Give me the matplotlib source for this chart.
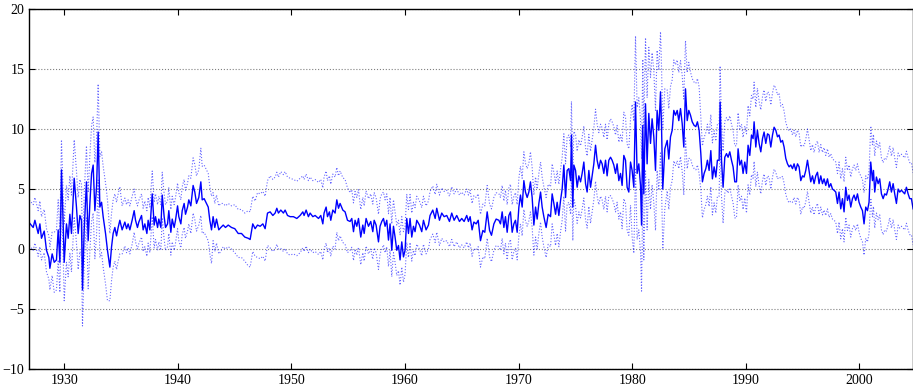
import numpy as np
import matplotlib
matplotlib.use("Agg")
import matplotlib.pyplot as plt

# dates (decimal years) and estimate
years = [
    1926.92, 1927.27, 1927.42, 1927.71, 1927.86, 1928.00, 1928.24, 1928.44, 1928.65, 1928.74,
    1928.94, 1929.12, 1929.32, 1929.47, 1929.62, 1929.76, 1929.91, 1930.00, 1930.20, 1930.35,
    1930.50, 1930.64, 1930.88, 1931.08, 1931.23, 1931.38, 1931.52, 1931.61, 1931.76, 1931.96,
    1932.11, 1932.26, 1932.41, 1932.55, 1932.70, 1932.85, 1932.99, 1933.14, 1933.29, 1933.43,
    1933.64, 1933.81, 1934.02, 1934.17, 1934.31, 1934.46, 1934.61, 1934.75, 1934.90, 1935.10,
    1935.34, 1935.49, 1935.63, 1935.78, 1935.98, 1936.16, 1936.28, 1936.45, 1936.57, 1936.81,
    1936.95, 1937.10, 1937.28, 1937.39, 1937.54, 1937.75, 1937.92, 1938.04, 1938.22, 1938.33,
    1938.51, 1938.63, 1938.80, 1938.92, 1939.10, 1939.21, 1939.39, 1939.51, 1939.68, 1939.80,
    1939.98, 1940.09, 1940.27, 1940.39, 1940.56, 1940.68, 1940.86, 1940.97, 1941.15, 1941.35,
    1941.50, 1941.65, 1941.85, 1942.03, 1942.15, 1942.32, 1942.53, 1942.68, 1942.82, 1942.97,
    1943.11, 1943.26, 1943.41, 1943.61, 1943.79, 1944.00, 1944.20, 1944.44, 1944.73, 1945.02,
    1945.32, 1945.61, 1945.90, 1946.20, 1946.37,
    1946.60, 1946.81, 1947.02, 1947.25, 1947.49, 1947.69, 1947.90, 1948.13, 1948.37, 1948.57,
    1948.72, 1948.86, 1949.07, 1949.30, 1949.45, 1949.66, 1949.89, 1950.18, 1950.48, 1950.77,
    1951.01, 1951.12, 1951.30, 1951.50, 1951.65, 1951.89, 1952.09, 1952.39, 1952.59, 1952.77,
    1952.88, 1953.06, 1953.18, 1953.35, 1953.47, 1953.65, 1953.85, 1954.00, 1954.15, 1954.29,
    1954.53, 1954.73, 1954.94, 1955.17, 1955.32, 1955.47, 1955.61, 1955.76, 1955.91, 1956.11,
    1956.29, 1956.41, 1956.58, 1956.79, 1956.99, 1957.17, 1957.29, 1957.46, 1957.67, 1957.81,
    1957.96, 1958.11, 1958.25, 1958.40, 1958.55, 1958.69, 1958.84, 1958.99, 1959.13, 1959.28,
    1959.43, 1959.57, 1959.72, 1959.87, 1960.01, 1960.16, 1960.31, 1960.45, 1960.60, 1960.75,
    1960.89, 1961.04, 1961.28, 1961.48, 1961.63, 1961.86, 1962.07, 1962.21, 1962.45, 1962.66,
    1962.80, 1963.04, 1963.24, 1963.45, 1963.68, 1963.92, 1964.12, 1964.33, 1964.56, 1964.80,
    1965.00, 1965.21, 1965.44, 1965.59, 1965.74, 1965.91,
    1966.07, 1966.27, 1966.45, 1966.65, 1966.86, 1967.03, 1967.24, 1967.45, 1967.62, 1967.83,
    1968.03, 1968.27, 1968.41, 1968.56, 1968.71, 1968.85, 1969.00, 1969.15, 1969.29, 1969.44,
    1969.59, 1969.73, 1969.88, 1970.03, 1970.17, 1970.32, 1970.47, 1970.61, 1970.76, 1970.91,
    1971.05, 1971.20, 1971.35, 1971.50, 1971.64, 1971.79, 1971.94, 1972.08, 1972.23, 1972.43,
    1972.61, 1972.82, 1972.96, 1973.11, 1973.26, 1973.40, 1973.55, 1973.70, 1973.84, 1973.99,
    1974.14, 1974.28, 1974.43, 1974.58, 1974.66, 1974.78, 1974.87, 1975.02, 1975.16, 1975.31,
    1975.46, 1975.60, 1975.75, 1975.90, 1976.04, 1976.19, 1976.34, 1976.48, 1976.63, 1976.78,
    1976.92, 1977.07, 1977.22, 1977.36, 1977.51, 1977.66, 1977.80, 1977.95, 1978.10, 1978.24,
    1978.39, 1978.54, 1978.68, 1978.83, 1978.98, 1979.12, 1979.27, 1979.42, 1979.56, 1979.71,
    1979.86, 1980.00, 1980.15, 1980.30, 1980.44, 1980.59, 1980.74, 1980.83, 1980.94, 1981.03,
    1981.18, 1981.32, 1981.47, 1981.62, 1981.76, 1981.91, 1982.06, 1982.20, 1982.35, 1982.50,
    1982.59, 1982.70, 1982.88, 1983.09, 1983.23, 1983.38, 1983.53, 1983.67, 1983.82, 1983.97,
    1984.11, 1984.26, 1984.41, 1984.55, 1984.70, 1984.85, 1984.99, 1985.14, 1985.29, 1985.46,
    1985.61, 1985.75, 1985.90, 1986.05, 1986.19, 1986.34, 1986.49, 1986.63, 1986.78, 1986.93,
    1987.07, 1987.22, 1987.37, 1987.51, 1987.66, 1987.75, 1987.87, 1988.01, 1988.16, 1988.31,
    1988.45, 1988.60, 1988.75, 1988.89, 1989.04, 1989.19, 1989.33, 1989.48, 1989.63, 1989.77,
    1989.92, 1990.07, 1990.21, 1990.36, 1990.51, 1990.65, 1990.74, 1990.89, 1991.03, 1991.18,
    1991.33, 1991.48, 1991.62, 1991.77, 1991.92, 1992.06, 1992.21, 1992.36, 1992.50, 1992.65,
    1992.80, 1992.94, 1993.09, 1993.24, 1993.38, 1993.53, 1993.68, 1993.82, 1993.97, 1994.12,
    1994.26, 1994.41, 1994.56, 1994.70, 1994.85, 1995.00, 1995.14, 1995.29, 1995.44, 1995.58,
    1995.73, 1995.88, 1996.02, 1996.17, 1996.32, 1996.46, 1996.61, 1996.76, 1996.90, 1997.05,
    1997.20, 1997.34, 1997.49, 1997.64, 1997.78, 1997.93, 1998.08, 1998.22, 1998.37, 1998.52,
    1998.66, 1998.81, 1998.96, 1999.10, 1999.25, 1999.40, 1999.54, 1999.69, 1999.84, 1999.98,
    2000.13, 2000.28, 2000.42, 2000.57, 2000.72, 2000.86, 2001.01, 2001.16, 2001.25, 2001.36,
    2001.51, 2001.66, 2001.80, 2001.95, 2002.10, 2002.24, 2002.39, 2002.54, 2002.68, 2002.83,
    2002.98, 2003.12, 2003.27, 2003.42, 2003.56, 2003.71, 2003.86, 2004.00, 2004.15, 2004.30,
    2004.44, 2004.59, 2004.74,
]

estimate = [
    2.2, 1.8, 2.4, 1.3, 2.1, 0.9, 1.5, -0.1, -0.7, -1.6,
    -0.4, -1.1, -0.9, 1.6, -1.1, 6.6, 2.1, -1.1, 2.1, 0.9,
    2.9, 1.3, 5.9, 3.5, 1.3, 2.8, 2.4, -3.4, 1.6, 5.6,
    0.7, 3.8, 6.3, 7.0, 3.2, 5.2, 9.75, 3.5, 3.9, 2.7,
    1.3, -0.1, -1.5, 0.2, 1.3, 1.8, 1.1, 1.8, 2.4, 1.6,
    2.25, 1.7, 2.1, 1.6, 2.4, 3.2, 2.4, 1.8, 2.25, 2.8,
    1.6, 2.1, 1.3, 2.4, 1.6, 4.6, 2.0, 2.7, 1.8, 2.5,
    1.8, 4.5, 2.7, 1.8, 2.1, 3.2, 1.4, 2.5, 1.8, 2.4,
    3.6, 2.7, 2.1, 3.2, 3.8, 2.9, 3.5, 4.1, 3.6, 5.3,
    4.75, 3.8, 4.3, 5.6, 4.1, 4.2, 3.8, 3.5, 2.4, 1.6,
    2.7, 1.8, 2.5, 1.6, 1.8, 2.0, 1.8, 2.0, 1.8, 1.7,
    1.3, 1.3, 1.0, 0.9, 0.8,
    2.1, 1.7, 2.0, 1.9, 2.1, 1.7, 3.0, 3.1, 2.8, 3.0,
    3.4, 3.0, 3.25, 3.0, 3.25, 2.8, 2.7, 2.7, 2.55, 2.8,
    3.1, 2.8, 3.25, 2.7, 3.0, 2.7, 2.8, 2.55, 2.8, 2.1,
    3.0, 3.5, 2.7, 3.1, 2.4, 3.25, 3.0, 4.1, 3.4, 3.8,
    3.25, 3.1, 2.4, 2.3, 2.55, 1.45, 2.4, 1.9, 2.55, 1.0,
    2.0, 1.3, 2.55, 1.9, 2.3, 1.45, 2.4, 2.0, 0.6, 1.9,
    2.3, 2.55, 1.9, 2.4, 0.75, 2.1, -0.1, 1.9, 1.0, -0.1,
    0.3, -0.9, 0.6, -0.65, -0.1, 2.55, 1.3, 2.55, 1.0, 1.9,
    1.45, 2.4, 2.0, 1.45, 2.4, 1.6, 2.0, 2.8, 3.25, 2.55,
    3.4, 2.4, 3.0, 2.7, 2.8, 2.3, 3.0, 2.4, 2.8, 2.3,
    2.55, 2.3, 2.8, 2.3, 2.7, 1.6,
    2.25, 2.1, 2.4, 0.7, 1.55, 1.4, 3.1, 1.55, 1.15, 2.1,
    2.5, 2.4, 2.1, 3.1, 1.8, 2.7, 1.4, 2.8, 3.1, 1.4,
    2.1, 2.4, 1.4, 3.5, 4.5, 3.5, 5.7, 4.75, 4.3, 4.75,
    5.6, 4.3, 2.0, 3.5, 2.5, 3.8, 4.75, 3.5, 2.7, 1.8,
    2.9, 2.7, 4.6, 3.8, 2.9, 3.9, 2.8, 4.05, 5.0, 7.0,
    4.3, 6.55, 6.7, 5.7, 9.5, 3.5, 7.0, 6.55, 5.15, 6.1,
    5.6, 6.3, 7.25, 5.45, 4.75, 6.55, 5.15, 6.1, 7.1, 8.65,
    7.4, 6.7, 7.4, 7.1, 6.3, 7.4, 6.1, 7.4, 7.65, 7.4,
    7.0, 6.3, 7.1, 5.7, 6.3, 5.3, 7.8, 7.4, 5.15, 4.75,
    7.25, 6.55, 5.15, 12.25, 6.3, 7.1, 5.3, 2.0, 10.3, 4.6,
    12.1, 7.1, 11.3, 8.8, 10.85, 9.35, 6.55, 11.55, 9.9, 13.1,
    10.2, 5.0, 8.35, 9.05, 7.5, 9.35, 9.9, 11.55, 11.15, 11.55,
    10.7, 11.7, 10.45, 8.5, 13.35, 10.7, 11.55, 11.15, 10.6, 10.3,
    10.2, 10.6, 9.9, 7.95, 5.6, 6.3, 6.7, 7.4, 6.55, 8.2,
    5.85, 6.85, 6.0, 7.4, 7.4, 12.25, 7.4, 5.15, 7.65, 7.95,
    7.65, 8.1, 7.4, 6.85, 5.6, 5.6, 8.35, 7.0, 7.4, 6.3,
    7.25, 6.3, 8.65, 7.8, 9.5, 9.2, 10.6, 8.5, 9.9, 8.8,
    8.1, 9.2, 9.75, 8.8, 9.6, 9.5, 8.5, 9.5, 10.15, 9.9,
    9.35, 9.5, 8.9, 9.05, 8.5, 7.55, 7.1, 6.85, 7.0, 6.7,
    7.1, 6.55, 7.1, 6.85, 5.7, 6.1, 6.0, 6.55, 7.4, 6.55,
    5.6, 6.1, 5.45, 6.1, 6.4, 5.45, 6.1, 5.45, 5.85, 5.3,
    5.85, 5.15, 5.45, 5.0, 4.9, 4.75, 3.8, 4.75, 3.35, 4.2,
    3.1, 5.15, 4.05, 4.5, 3.5, 4.2, 4.5, 4.05, 4.6, 3.9,
    3.5, 3.2, 2.1, 3.5, 3.2, 3.9, 7.25, 5.7, 6.55, 4.75,
    6.0, 5.45, 5.85, 4.6, 4.2, 4.6, 4.5, 5.0, 5.6, 4.75,
    5.45, 4.6, 3.8, 5.0, 4.75, 4.9, 4.75, 4.6, 5.15, 4.6,
    4.2, 4.2, 3.35,
]

# half width of the dotted band, one value per calendar year from 1926
band_start = 1926
band_halfwidth = [
    1.9, 1.9, 1.8, 2.5, 3.2, 3.0, 4.0, 4.2, 2.8, 2.0,
    1.8, 1.9, 1.9, 1.9, 2.0, 2.3, 2.8, 2.0, 1.8, 2.0,
    2.3, 2.7, 3.0, 3.2, 3.1, 3.0, 3.0, 3.0, 2.7, 2.4,
    2.3, 2.3, 2.2, 2.1, 2.0, 2.0, 2.0, 2.1, 2.2, 2.2,
    2.2, 2.2, 2.2, 2.3, 2.4, 2.5, 2.5, 2.6, 2.8, 3.0,
    3.0, 3.0, 3.2, 3.6, 5.5, 5.5, 5.0, 4.2, 4.0, 3.6,
    3.0, 3.0, 3.0, 3.0, 3.3, 3.5, 3.5, 3.0, 2.8, 2.6,
    2.6, 2.5, 2.5, 2.5, 2.6, 3.0, 3.0, 3.0, 3.0,
]

x = np.array(years)
y = np.array(estimate)
hw = np.array(band_halfwidth)[np.floor(x).astype(int) - band_start]

plt.rcParams['font.family'] = ['Liberation Serif', 'DejaVu Serif']
plt.rcParams['font.size'] = 10

fig = plt.figure(figsize=(9.13, 3.89), dpi=100)
ax = fig.add_axes([0.032, 0.051, 0.968, 0.926])

ax.plot(x, y + hw, color='blue', linestyle=':', linewidth=0.8, alpha=0.6)
ax.plot(x, y - hw, color='blue', linestyle=':', linewidth=0.8, alpha=0.6)
ax.plot(x, y, color='blue', linewidth=1.0)

ax.set_xlim(1926.92, 2004.73)
ax.set_ylim(-10, 20)
ax.set_xticks(range(1930, 2001, 10))
ax.set_yticks(range(-10, 21, 5))
ax.yaxis.grid(True, linestyle=':', color='0.5', linewidth=0.8)
ax.tick_params(direction='in', top=True, right=True, length=4, width=0.8)
for s in ax.spines.values():
    s.set_linewidth(1.0)

fig.savefig("out.png", dpi=100)
